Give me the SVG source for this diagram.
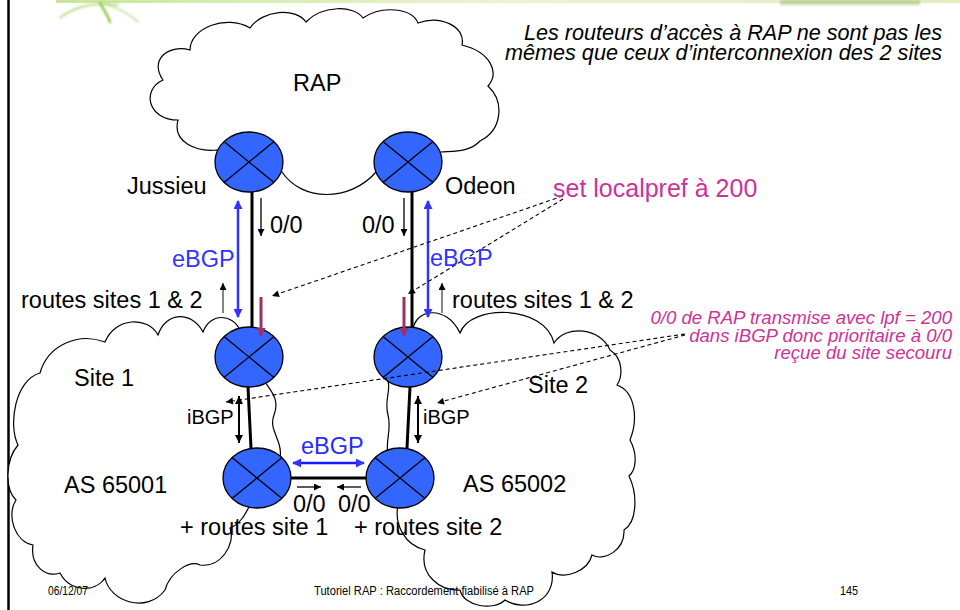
<svg xmlns="http://www.w3.org/2000/svg" width="960" height="610" viewBox="0 0 960 610">
  <defs>
    <style>
      text { font-family: "Liberation Sans", Arial, sans-serif; fill: #000; }
      .lbl { font-size: 23.5px; }
      .sm { font-size: 20px; }
      .blue { fill: #3333ff; }
      .note { font-style: italic; font-size: 21.6px; }
      .pink { fill: #cc3399; }
      .pnote { font-style: italic; font-size: 18.6px; fill: #cc3399; }
      .foot { font-size: 12px; }
      .cloud { fill: #fff; stroke: #000; stroke-width: 1.2; }
      .router ellipse { fill: #3366ff; stroke: #000; stroke-width: 1.3; }
      .router line { stroke: #000; stroke-width: 1.3; }
      .link { stroke: #000; stroke-width: 3; fill: none; }
      .ebgp { stroke: #3333ff; stroke-width: 2.5; fill: none; marker-start: url(#ab); marker-end: url(#ab); }
      .flow { stroke: #000; stroke-width: 1.3; fill: none; marker-end: url(#ak); }
      .ibgp { stroke: #000; stroke-width: 2; fill: none; marker-start: url(#ak2); marker-end: url(#ak2); }
      .pref { stroke: #993366; stroke-width: 3; fill: none; marker-end: url(#ap); }
      .dash { stroke: #000; stroke-width: 1.1; stroke-dasharray: 4 3; fill: none; marker-end: url(#ad); }
    </style>
    <marker id="ak" viewBox="0 0 10 10" refX="10" refY="5" markerWidth="8" markerHeight="7" markerUnits="userSpaceOnUse" orient="auto-start-reverse">
      <path d="M0,0 L10,5 L0,10 z" fill="#000"/>
    </marker>
    <marker id="ak2" viewBox="0 0 10 10" refX="10" refY="5" markerWidth="9" markerHeight="8" markerUnits="userSpaceOnUse" orient="auto-start-reverse">
      <path d="M0,0 L10,5 L0,10 z" fill="#000"/>
    </marker>
    <marker id="ab" viewBox="0 0 10 10" refX="9" refY="5" markerWidth="10" markerHeight="9" markerUnits="userSpaceOnUse" orient="auto-start-reverse">
      <path d="M0,0 L10,5 L0,10 z" fill="#3333ff"/>
    </marker>
    <marker id="ap" viewBox="0 0 10 10" refX="9" refY="5" markerWidth="10" markerHeight="9" markerUnits="userSpaceOnUse" orient="auto">
      <path d="M0,0 L10,5 L0,10 z" fill="#993366"/>
    </marker>
    <marker id="ad" viewBox="0 0 10 10" refX="10" refY="5" markerWidth="8" markerHeight="7" markerUnits="userSpaceOnUse" orient="auto">
      <path d="M0,0 L10,5 L0,10 z" fill="#000"/>
    </marker>
    <linearGradient id="band" x1="0" y1="0" x2="1" y2="0">
      <stop offset="0" stop-color="#c8e69a"/>
      <stop offset="0.5" stop-color="#eaf5d2"/>
      <stop offset="1" stop-color="#e4efc0"/>
    </linearGradient>
    <filter id="soft" x="-20%" y="-50%" width="140%" height="200%">
      <feGaussianBlur stdDeviation="1.2"/>
    </filter>
  </defs>

  <rect width="960" height="610" fill="#fff"/>

  <!-- slide frame and header decoration -->
  <g id="header">
    <rect x="56" y="0" width="904" height="3" fill="url(#band)"/>
    <g filter="url(#soft)" fill="none" stroke="#8cc63f" stroke-linecap="round">
      <path d="M100,3 C104,10 108,16 110,22" stroke-width="2.5"/>
      <path d="M60,18 C75,6 95,2 118,5" stroke-width="1.8" opacity="0.6"/>
      <path d="M104,4 C118,8 130,14 138,22" stroke-width="1.8" opacity="0.5"/>
    </g>
    <rect x="780" y="0" width="140" height="5" fill="#9dbb6a" opacity="0.55" filter="url(#soft)"/>
    <line x1="8.5" y1="0" x2="8.5" y2="610" stroke="#000" stroke-width="2.5"/>
  </g>

  <!-- clouds -->
  <g id="cloud-rap">
    <path class="cloud" d="M217,150 C196,152 172,142 178,120 C148,120 141,90 163,80 C149,60 168,44 190,50 C190,28 226,14 250,28 C262,10 296,7 306,22 C322,5 354,5 363,18 C382,5 412,8 418,23 C440,15 466,26 462,45 C490,52 500,72 488,86 C505,102 502,130 480,141 C470,152 455,151 441,152 L376,172 C350,202 302,202 282,172 Z"/>
    <text class="lbl" x="293" y="91">RAP</text>
  </g>
  <g id="cloud-site1">
    <path class="cloud" d="M240,330 C232,313 210,313 203,332 C192,311 166,311 158,335 C148,316 115,317 105,342 C78,332 48,345 40,373 C15,380 8,425 18,445 C5,460 5,490 16,500 C6,515 15,542 33,545 C30,565 45,578 60,573 C70,592 95,593 105,578 C110,602 147,614 165,590 C170,572 190,560 200,565 C220,568 236,545 230,528 C240,524 245,515 250,505 L280,458 C283,440 268,430 274,415 C280,400 271,391 265,382 Z"/>
    <text class="lbl" x="74" y="386">Site 1</text>
    <text class="lbl" x="64" y="493">AS 65001</text>
  </g>
  <g id="cloud-site2">
    <path class="cloud" d="M413,330 C415,309 446,304 460,333 C470,304 545,304 554,343 C566,324 601,328 610,350 C623,358 623,376 617,385 C636,392 638,420 630,440 C638,455 636,470 629,476 C638,495 637,522 624,530 C625,550 604,562 592,555 C588,571 565,580 552,572 C556,601 525,613 505,600 C494,611 464,607 460,590 C440,591 419,575 425,550 C405,545 394,525 398,505 L388,455 C385,440 392,430 388,415 C384,400 391,391 388,381 Z"/>
    <text class="lbl" x="528" y="393">Site 2</text>
    <text class="lbl" x="463" y="492">AS 65002</text>
  </g>

  <!-- routers -->
  <g id="r-jussieu" class="router">
    <ellipse cx="249" cy="162" rx="34" ry="30"/>
    <line x1="224" y1="141.5" x2="274" y2="182.5"/>
    <line x1="274" y1="141.5" x2="224" y2="182.5"/>
  </g>
  <g id="r-odeon" class="router">
    <ellipse cx="408" cy="162" rx="34" ry="30"/>
    <line x1="383" y1="141.5" x2="433" y2="182.5"/>
    <line x1="433" y1="141.5" x2="383" y2="182.5"/>
  </g>
  <g id="r-site1-border" class="router">
    <ellipse cx="249" cy="357" rx="34" ry="30"/>
    <line x1="224" y1="336.5" x2="274" y2="377.5"/>
    <line x1="274" y1="336.5" x2="224" y2="377.5"/>
  </g>
  <g id="r-site2-border" class="router">
    <ellipse cx="408" cy="357" rx="34" ry="30"/>
    <line x1="383" y1="336.5" x2="433" y2="377.5"/>
    <line x1="433" y1="336.5" x2="383" y2="377.5"/>
  </g>
  <g id="r-site1-inter" class="router">
    <ellipse cx="257" cy="478" rx="34" ry="30"/>
    <line x1="232" y1="457.5" x2="282" y2="498.5"/>
    <line x1="282" y1="457.5" x2="232" y2="498.5"/>
  </g>
  <g id="r-site2-inter" class="router">
    <ellipse cx="400" cy="478" rx="34" ry="30"/>
    <line x1="375" y1="457.5" x2="425" y2="498.5"/>
    <line x1="425" y1="457.5" x2="375" y2="498.5"/>
  </g>

  <!-- links, sessions and route flows (drawn over the routers) -->
  <g id="connectors">
    <line class="link" x1="252" y1="192" x2="252" y2="327"/>
    <line class="link" x1="412" y1="192" x2="412" y2="327"/>
    <line class="link" x1="248" y1="387" x2="251" y2="448"/>
    <line class="link" x1="410" y1="387" x2="407" y2="448"/>
    <line class="link" x1="291" y1="478" x2="366" y2="478"/>

    <line class="ebgp" x1="238" y1="201" x2="238" y2="317"/>
    <line class="ebgp" x1="428" y1="201" x2="428" y2="317"/>
    <line class="ebgp" x1="293" y1="463" x2="364" y2="463" style="stroke:#1a1aff"/>

    <line class="flow" x1="261" y1="198" x2="261" y2="236"/>
    <line class="flow" x1="404" y1="198" x2="404" y2="236"/>
    <line class="flow" x1="223" y1="313" x2="223" y2="283" style="stroke:#444"/>
    <line class="flow" x1="442" y1="313" x2="442" y2="283" style="stroke:#444"/>
    <line class="flow" x1="297" y1="487" x2="321" y2="487"/>
    <line class="flow" x1="361" y1="487" x2="337" y2="487"/>

    <line class="ibgp" x1="239" y1="396" x2="239" y2="443"/>
    <line class="ibgp" x1="418" y1="396" x2="418" y2="443"/>

    <line class="pref" x1="261" y1="297" x2="261" y2="336"/>
    <line x1="404" y1="297" x2="404" y2="325" stroke="#fff" stroke-width="6"/>
    <line class="pref" x1="404" y1="297" x2="404" y2="336"/>

    <line class="dash" x1="563" y1="196" x2="272" y2="296"/>
    <line class="dash" x1="563" y1="199" x2="408" y2="294"/>
    <line class="dash" x1="685" y1="334" x2="226" y2="402"/>
    <line class="dash" x1="685" y1="335" x2="437" y2="403"/>
  </g>

  <!-- labels -->
  <g id="labels">
    <text class="lbl" x="127" y="194">Jussieu</text>
    <text class="lbl" x="445" y="194">Odeon</text>
    <text class="lbl" x="270" y="233">0/0</text>
    <text class="lbl" x="362" y="233">0/0</text>
    <text class="lbl blue" x="172" y="267">eBGP</text>
    <text class="lbl blue" x="430" y="266">eBGP</text>
    <text class="lbl" x="21" y="308">routes sites 1 &amp; 2</text>
    <text class="lbl" x="452" y="308">routes sites 1 &amp; 2</text>
    <text class="lbl pink" x="553" y="197" style="font-size:25px">set localpref à 200</text>
    <text class="sm" x="187" y="424">iBGP</text>
    <text class="sm" x="423" y="424">iBGP</text>
    <text class="lbl blue" x="301" y="454" style="fill:#2b2bff">eBGP</text>
    <text class="lbl" x="293" y="512">0/0</text>
    <text class="lbl" x="338" y="512">0/0</text>
    <text class="lbl" x="180" y="535">+ routes site 1</text>
    <text class="lbl" x="354" y="535">+ routes site 2</text>
    <text class="note" x="942" y="40" text-anchor="end">Les routeurs d’accès à RAP ne sont pas les</text>
    <text class="note" x="942" y="60" text-anchor="end">mêmes que ceux d’interconnexion des 2 sites</text>
    <text class="pnote" x="952" y="324" text-anchor="end">0/0 de RAP transmise avec lpf = 200</text>
    <text class="pnote" x="952" y="342" text-anchor="end">dans iBGP donc prioritaire à 0/0</text>
    <text class="pnote" x="952" y="359" text-anchor="end">reçue du site secouru</text>
  </g>

  <!-- footer -->
  <g id="footer">
    <text class="foot" x="48" y="595" textLength="40" lengthAdjust="spacingAndGlyphs">06/12/07</text>
    <text class="foot" x="314" y="595" textLength="220" lengthAdjust="spacingAndGlyphs">Tutoriel RAP : Raccordement fiabilisé à RAP</text>
    <text class="foot" x="840" y="595" textLength="18" lengthAdjust="spacingAndGlyphs">145</text>
  </g>
</svg>
